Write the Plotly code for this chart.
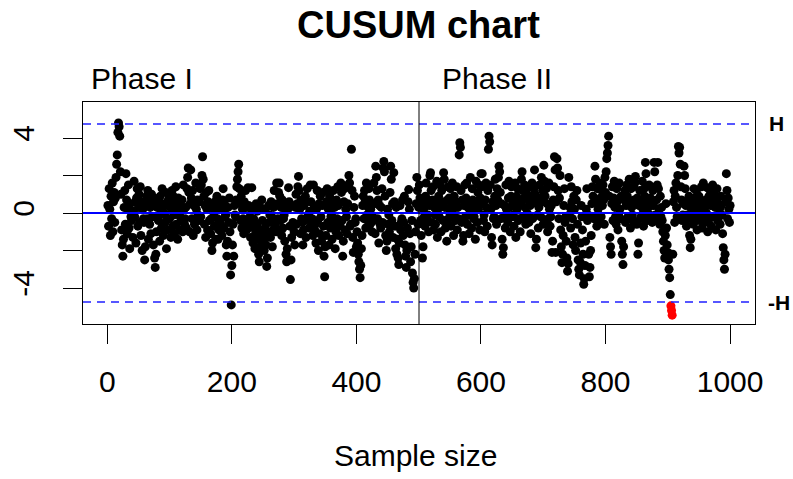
import plotly.graph_objects as go

# CUSUM statistic, Phase I (samples 1-500) and Phase II (samples 501-1000)
phase1_cusum = [
    0.4, -0.7, 1.3, 0.2, -1.2, 0.9, -0.3, 1.6, -1.0, 0.6, 1.1, -0.5, 0.8, 1.9, 2.6, 3.1, 4.3, 4.8, 4.6, 4.1, 2.2, 1.0, -0.9, -1.7, -2.3,
    -1.4, 0.3, 1.2, -0.6, 2.1, 0.7, -1.1, 0.2, 1.5, -0.8, -1.9, 0.5, -0.2, -0.4, -0.1, -1.3, 0.1, 1.7, -0.2, 0.6, -1.6, 0.8, 1.3, -0.7, 0.3,
    1.0, -0.5, 1.4, -1.2, 0.6, -2.0, 0.2, -0.3, -0.5, -2.5, -1.8, 0.4, 0.9, -0.3, 1.2, -1.4, 0.7, -0.6, 0.3, -1.1, 1.0, -0.2, 0.5, -1.7, 0.8,
    -2.4, -2.9, -2.2, -1.0, 0.3, -0.2, -0.4, 0.6, -1.5, 0.9, 0.2, -0.8, 1.3, 0.5, -1.2, 0.0, -0.1, -0.5, 1.1, -1.9, 0.4, -0.9, 0.7, 1.0, -0.3,
    0.6, -1.3, 0.2, 1.2, -0.7, 0.9, -0.1, -1.1, 0.5, 1.4, -0.6, 0.3, -1.4, 0.8, 0.1, -0.9, -0.2, 0.4, -0.4, 0.7, -1.0, 1.5, 0.2, -0.6, -0.3,
    0.3, -0.8, 1.3, 1.9, 2.4, 1.1, -1.0, 0.5, 2.3, 0.8, -0.3, 1.2, -1.2, 0.4, -0.6, -0.5, 1.6, 0.2, -0.9, 0.7, -0.1, -0.4, 0.6, 1.3, -0.2,
    1.5, 2.0, 3.0, 1.8, 0.9, -0.6, 0.4, -1.3, 1.1, 0.2, -0.9, 0.6, 1.2, -0.4, 0.3, -1.1, -0.3, -2.0, -1.6, 0.5, -0.2, -0.7, 0.1, -1.4, 0.7,
    0.9, -0.3, -1.4, -0.9, 0.4, -0.4, -0.6, 0.2, -1.2, 0.7, 1.3, -0.8, 0.5, -0.2, -0.1, -1.7, -2.3, -1.5, 0.3, -0.5, 0.8, -1.0, -3.3, -4.9, -2.8,
    -1.7, -0.6, -2.3, 0.4, -0.1, -0.2, 0.7, 1.4, 1.8, 2.2, 2.6, 1.3, 0.5, -0.4, 0.9, -0.8, 0.2, -0.3, -1.1, 0.6, -0.5, 1.2, 0.3, -0.9, -0.6,
    1.35, 0.4, -0.7, -0.2, -1.3, 0.2, 1.35, -0.5, -1.6, -0.3, -0.8, -1.9, -1.1, 0.5, -0.6, 0.1, -1.4, -2.2, -2.6, -1.8, 0.3, -0.9, 0.7, -0.4, -1.2,
    -1.5, -2.0, -0.8, 0.2, -1.7, -2.85, -2.4, -1.1, 0.4, -0.5, -0.1, -1.3, 0.6, -0.2, -1.8, -0.9, 0.3, 1.2, -0.6, -0.7, -1.0, 1.6, 0.5, -0.3, 1.1,
    1.6, 0.9, -0.4, 0.3, -1.2, 0.7, -0.8, -0.3, -0.1, -1.5, 0.5, -2.2, -2.6, -1.9, 0.2, 1.35, 0.6, -0.7, -3.55, -2.5, -1.3, 0.4, -0.5, -0.6, -1.0,
    -1.7, 0.3, 1.0, -0.6, 0.5, 1.4, 1.95, 1.2, 0.2, -1.1, 0.7, -0.3, -0.5, -1.7, -0.9, 0.4, -0.4, 0.9, -1.3, 0.6, 1.3, -0.2, -0.1, -0.8, 0.1,
    1.5, 0.6, -0.5, -0.3, -1.2, 1.5, 0.3, -0.9, -0.6, -1.6, 0.2, 1.2, -0.4, -2.0, 0.5, -1.1, 0.9, -0.2, -1.5, 0.4, 1.1, -0.7, -2.3, -3.4, -1.8,
    -1.2, 0.6, 1.3, -0.5, 0.2, -1.7, 0.9, -0.8, -0.2, -0.1, -1.4, 0.5, 1.2, -0.6, 0.3, -1.9, -1.0, 0.7, -0.3, 1.4, 0.4, -1.2, -0.4, -0.7, 1.6,
    1.1, -0.4, -2.3, -1.5, 0.6, 1.3, -0.9, 0.2, -0.2, -1.1, 0.5, 1.5, 2.0, 1.6, -0.7, -0.6, 3.4, 1.2, -1.3, -2.1, 0.3, 0.9, -0.5, -0.3, -1.8,
    -1.0, -1.6, -2.2, -2.6, -3.0, -3.45, -2.8, -1.9, -1.2, 0.4, 0.9, -0.3, 1.2, 0.6, -0.8, 1.6, -0.1, -0.4, 0.3, 1.3, 0.7, -0.6, 0.2, -0.5, -1.0,
    -0.2, -0.4, 1.6, 0.5, -1.1, 2.5, 1.9, 1.2, -0.3, 0.7, -1.6, 0.4, -0.6, -0.8, 0.3, 1.3, -0.5, 2.4, 2.75, 2.2, 0.9, -1.2, -2.0, -1.5, 0.2,
    -0.6, -0.1, -1.0, 1.1, 2.5, 1.8, -0.4, 0.5, -1.3, 2.15, 0.6, -0.7, -1.9, 0.3, -2.2, -1.4, -2.4, -2.75, -1.6, 0.4, -0.9, -0.5, -0.3, 0.7, -1.2,
    -0.5, 0.9, -1.7, -2.3, -2.9, -2.0, -0.8, 0.6, 1.25, 0.2, -1.1, -2.6, -1.8, -0.4, -3.2, -3.7, -4.0, -3.5, -2.2, -1.0, 0.5, 1.9, 1.2, -0.6, 0.3,
]
phase2_cusum = [
    1.5, 0.8, -0.4, -1.2, 0.6, -2.4, -1.8, 0.2, -0.2, -0.7, 0.9, 1.6, -0.3, 0.5, -0.1, -1.0, 0.4, 2.0, 2.15, 1.2, -0.5, 0.7, 1.4, -0.9, 0.3,
    -0.1, -0.6, 0.5, 1.7, -1.3, 0.2, 0.9, -0.2, 1.5, 0.4, -1.0, 1.2, 0.6, -0.4, 2.15, 1.8, 0.3, -0.8, -0.4, -1.5, 0.7, 1.4, -0.3, 0.8, 0.0,
    1.3, -0.7, 0.5, 1.6, 0.2, -1.2, 0.9, -0.2, -0.4, 0.6, 1.4, -0.9, 0.3, -0.3, 3.1, 3.75, 3.5, 1.2, -0.5, 0.7, -1.5, -1.2, 0.4, 1.5, -0.2,
    0.8, 1.6, -0.6, 0.3, -0.1, -1.1, 0.5, 1.9, 0.1, -0.8, 1.3, 0.7, -0.3, -0.2, 0.4, -1.4, 1.7, 0.6, -0.5, 1.1, 0.2, 1.5, -0.9, 0.8, 2.1,
    1.4, 2.1, 0.5, -0.4, -0.1, -1.0, 0.7, 1.6, 0.3, -0.7, 1.2, 3.4, 4.1, 3.8, 1.5, 0.2, -1.3, -1.7, 0.6, -0.3, -0.2, 0.9, 1.8, 0.4, -0.6,
    1.3, 0.7, 1.9, 2.5, 2.2, 1.1, -0.3, 0.5, -1.4, -2.2, -1.85, -0.2, 0.4, -0.8, 1.5, 0.2, -0.1, -0.5, 0.8, 1.7, 0.3, -1.0, 0.9, 1.4, -0.2,
    0.6, -0.1, -0.7, 0.4, 1.6, -1.3, 0.9, 0.2, 1.3, -0.4, 0.7, -0.3, -1.0, 0.5, 1.8, 2.2, 1.2, -0.2, 0.8, 1.5, 0.3, -0.6, 1.1, 0.0, 1.4,
    0.7, -0.5, -0.2, 0.4, -1.1, 0.9, 1.6, -0.3, 0.6, 1.3, 2.3, 1.0, -1.85, -1.4, 0.5, -0.1, -0.8, 0.3, 1.5, 0.8, -0.2, 1.9, 0.6, 1.2, -0.6,
    2.55, 1.7, 0.9, -0.4, 1.3, 0.5, -1.0, -0.3, 1.6, 0.2, -0.7, -0.2, 0.4, -2.1, -1.5, 0.7, 1.4, 3.0, 2.3, -2.1, 0.6, 2.9, 2.4, 1.2, -0.3,
    0.8, 2.0, -0.9, -1.8, -2.65, -2.2, -1.2, 0.4, 1.3, -0.5, -0.2, -1.5, -2.4, -3.1, -2.7, 1.9, -0.1, 0.3, -0.8, 1.4, 0.6, -0.3, -1.7, 0.9, 0.2,
    -1.3, -2.0, 0.7, 1.2, -0.6, -2.5, -3.0, -3.3, -2.6, -1.6, 0.4, -0.2, -0.9, -2.2, -3.8, -3.5, -2.8, -1.5, 0.2, 1.3, -0.4, -0.1, -2.2, -3.4, -2.9,
    -2.0, -1.2, 0.5, 1.4, 0.9, -0.3, -0.2, 2.5, 1.8, 0.6, -0.7, 1.3, 0.2, -0.1, -0.5, 1.6, 0.8, -0.2, 1.2, 0.4, 1.5, 0.7, -0.6, 1.9, 1.1,
    2.2, 2.9, 3.2, 3.6, 4.1, 0.9, -1.3, -1.8, -2.2, 0.5, 1.4, -0.4, 0.8, 1.7, 0.3, -0.2, -0.6, 1.3, 0.6, -0.9, -0.1, 1.6, 0.2, -0.3, 0.9,
    -1.5, -2.2, -2.75, -1.8, 0.7, 1.2, -0.5, 0.4, 1.5, 0.9, -0.2, -0.3, 1.8, 0.6, -0.8, 1.3, 0.3, -0.1, -0.4, 1.4, 0.7, 1.6, 1.95, 0.5, -0.6,
    0.8, -2.2, -1.6, 0.4, 1.2, -0.3, -0.2, 0.6, 1.7, 0.2, -0.7, 1.3, 0.9, 2.7, 2.1, 0.5, -0.4, -0.1, 0.3, 1.5, -0.1, 0.8, 1.4, 0.6, -0.5,
    1.2, 0.4, 2.7, 2.2, -0.1, -0.3, 0.7, 1.5, 2.7, 1.3, 0.2, -0.6, 0.9, -0.2, 0.3, -0.4, -1.0, -1.5, -2.0, -2.4, -1.2, 0.5, -0.8, -1.7, -2.1,
    -2.5, -3.0, -3.45, -4.35, -4.95, -5.2, -5.45, -2.2, 0.6, 1.2, -0.5, 0.9, 1.6, 0.3, -0.2, 2.0, 3.55, 3.2, 3.5, 2.6, 1.4, 0.7, -0.4, -0.1, 0.5,
    2.5, 2.0, 1.3, 0.4, -0.7, -0.1, 0.6, -0.3, 0.9, -1.2, -1.85, -1.4, 0.2, -0.2, 0.5, -0.6, 1.3, 0.8, -0.2, 0.4, 1.2, -0.9, 0.6, 0.1, 0.9,
    -0.4, -0.1, 0.3, 1.4, -0.8, 0.6, 1.6, 0.2, -0.2, -0.5, 0.7, 0.0, 1.35, -1.0, 0.5, 0.9, -0.3, 1.2, 0.4, -0.7, 0.8, 1.5, -0.2, 0.6, 1.0,
    0.3, -0.9, 0.7, 1.3, -0.4, 0.5, -0.2, 0.2, -0.6, 0.9, 0.4, -0.1, -1.1, -1.85, -2.5, -3.0, -2.2, 0.6, 2.1, 1.2, -0.3, 0.8, 0.2, -0.5, 0.4,
]
H = 4.75
center = 0.0
x_ticks = [0, 200, 400, 600, 800, 1000]
y_ticks = [-4, -2, 0, 2, 4]
y_ticktext = ["-4", "", "0", "", "4"]

values = phase1_cusum + phase2_cusum
n1 = len(phase1_cusum)
xs = list(range(1, len(values) + 1))
colors = ["#FF0000" if (i > n1 and abs(v) > H) else "#000000" for i, v in zip(xs, values)]

FONT = "Liberation Sans, Arial, sans-serif"

fig = go.Figure()
fig.add_trace(go.Scatter(
    x=xs, y=values, mode="markers",
    marker=dict(size=9, color=colors, line=dict(width=0)),
    hoverinfo="x+y", showlegend=False,
))

# center line, decision limits, phase divider
fig.add_hline(y=center, line=dict(color="#0000FF", width=2), layer="above")
fig.add_hline(y=H, line=dict(color="#1F1FFF", width=1.5, dash="8px,6px"), layer="above")
fig.add_hline(y=-H, line=dict(color="#1F1FFF", width=1.5, dash="8px,6px"), layer="above")
fig.add_vline(x=n1 + 0.5, line=dict(color="#000000", width=1), layer="above")


def txt(size):
    return dict(family=FONT, size=size, color="#000000")


fig.add_annotation(text="<b>CUSUM chart</b>", xref="paper", yref="paper", x=(418 - 83) / 672,
                   y=(324 - 25) / 222, xanchor="center", yanchor="middle", showarrow=False, font=txt(38))
fig.add_annotation(text="Phase I", xref="paper", yref="paper", x=(89 - 83) / 672, y=(324 - 78) / 222,
                   xanchor="left", yanchor="middle", showarrow=False, font=txt(30))
fig.add_annotation(text="Phase II", xref="paper", yref="paper", x=(440 - 83) / 672, y=(324 - 78) / 222,
                   xanchor="left", yanchor="middle", showarrow=False, font=txt(30))
fig.add_annotation(text="<b>H</b>", xref="paper", yref="y", x=(767 - 83) / 672, y=H,
                   xanchor="left", yanchor="middle", showarrow=False, font=txt(21))
fig.add_annotation(text="<b>-H</b>", xref="paper", yref="y", x=(766 - 83) / 672, y=-H,
                   xanchor="left", yanchor="middle", showarrow=False, font=txt(21))
fig.add_annotation(text="Sample size", xref="paper", yref="paper", x=(415 - 83) / 672, y=(324 - 455) / 222,
                   xanchor="center", yanchor="middle", showarrow=False, font=txt(30))

fig.update_layout(
    width=793, height=479,
    margin=dict(l=83, r=38, t=102, b=155, autoexpand=False),
    paper_bgcolor="#FFFFFF", plot_bgcolor="#FFFFFF",
    font=txt(30),
    xaxis=dict(range=[-39, 1040], tickvals=x_ticks, ticks="outside", ticklen=19, tickwidth=1,
               tickcolor="#000000", showline=True, mirror=True, linecolor="#000000", linewidth=1,
               showgrid=False, zeroline=False, ticklabelstandoff=12, automargin=False,
               tickfont=txt(30)),
    yaxis=dict(range=[-5.92, 5.92], tickvals=y_ticks, ticktext=y_ticktext, tickangle=-90,
               ticks="outside", ticklen=19, tickwidth=1, tickcolor="#000000",
               showline=True, mirror=True, linecolor="#000000", linewidth=1,
               showgrid=False, zeroline=False, ticklabelstandoff=17, automargin=False,
               tickfont=txt(30)),
)

fig.write_html("out.html")
